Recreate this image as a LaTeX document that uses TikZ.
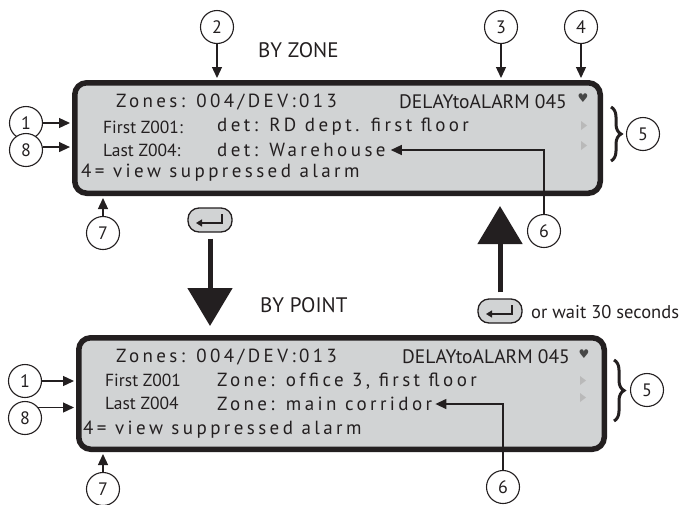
\documentclass[tikz,border=0pt]{standalone}
\usepackage{fontspec}
\setmainfont{PT Sans}
\newfontfamily\lcdfont[LetterSpace=18]{PT Sans}
\newfontfamily\symfont{DejaVu Sans}
\usetikzlibrary{arrows.meta,decorations.pathreplacing,calc}
\definecolor{lcdgrey}{HTML}{D1D3D4}
\definecolor{ink}{HTML}{231F20}
\begin{document}
\begin{tikzpicture}[x=1pt,y=-1pt,
 num/.style={circle,draw=ink,line width=1.1pt,minimum size=33pt,inner sep=0pt,fill=white,font=\fontsize{18}{18}\selectfont,text=ink},
 lcd/.style={draw=ink,fill=lcdgrey,line width=5.5pt,rounded corners=12pt,minimum width=525.5pt,minimum height=110.5pt,inner sep=0pt},
 lcdtxt/.style={anchor=west,inner sep=0pt,font=\lcdfont\fontsize{19}{19}\selectfont,text=ink},
 lbl/.style={anchor=west,inner sep=0pt,font=\fontsize{19.5}{19.5}\selectfont,text=ink},
 rowlbl/.style={anchor=west,inner sep=0pt,font=\fontsize{17.5}{17.5}\selectfont,text=ink},
 head/.style={anchor=west,inner sep=0pt,font=\fontsize{21}{21}\selectfont,text=ink},
 ptr/.style={draw=ink,line width=1.3pt,-{Triangle[length=11pt,width=10pt]}},
 bigarrow/.style={draw=ink,line width=5pt,-{Triangle[length=38pt,width=44pt]}},
 keybox/.style={draw=ink,fill=lcdgrey,line width=1.3pt,rounded corners=11pt,minimum width=44pt,minimum height=24pt,inner sep=0pt},
 keyglyph/.style={draw=ink,line width=1.2pt,-{Triangle[length=6pt,width=7pt]}},
 tri/.style={fill=gray!55},
 heart/.style={inner sep=0pt,font=\symfont\fontsize{12}{12}\selectfont,text=gray!55!black},
 bracestyle/.style={draw=ink,line width=3pt,decorate,decoration={brace,amplitude=10pt}}
]
\useasboundingbox (0,0) rectangle (683,504);

% ---------- BY ZONE ----------
\node[lcd] (box1) at (337.5,138) {};
\node[num] (t2) at (217,27) {2};
\node[num] (t3) at (501,27) {3};
\node[num] (t4) at (581,27) {4};
\node[head] (byzone) at (258,50) {BY ZONE};
\draw[ptr,shorten >=2pt] (t2) -- (t2 |- box1.north);
\draw[ptr,shorten >=2pt] (t3) -- (t3 |- box1.north);
\draw[ptr,shorten >=2pt] (t4) -- (t4 |- box1.north);

\node[lcdtxt] (z1) at (116,102) {Zones: 004/DEV:013};
\node[lbl,anchor=east] (d1) at (567,102) {DELAYtoALARM 045};
\node[heart] (h1) at (583,98) {♥};
\node[rowlbl] (f1) at (103,127) {First Z001:};
\node[lcdtxt] (r1) at (217,127) {det: RD dept. first floor};
\node[rowlbl] (l1) at (103,150) {Last Z004:};
\node[lcdtxt] (w1) at (217,150) {det: Warehouse};
\node[lcdtxt] (v1) at (81,173) {4= view suppressed alarm};
\fill[tri] (581,121) -- (587,125.5) -- (581,130) -- cycle;
\fill[tri] (581,141) -- (587,145.5) -- (581,150) -- cycle;

\node[num] (t1) at (26,123) {1};
\node[num] (t8) at (26,150) {8};
\draw[ptr,shorten >=2pt] (t1) -- (t1 -| box1.west);
\draw[ptr,shorten >=2pt] (t8.10) -- (t8.10 -| box1.west);

\coordinate (b5top) at (611,107);
\coordinate (b5bot) at (611,161);
\draw[bracestyle] (b5top) -- (b5bot);
\node[num] (t5) at (643,134) {5};

\node[num] (t7) at (103,233) {7};
\draw[ptr,shorten >=2pt] (t7) -- (t7 |- box1.south);

\node[num] (t6) at (544,231) {6};
\coordinate (w1tip) at ($(w1.east)+(5,0)$);
\draw[ptr] (t6.north) |- (w1tip);

% ---------- keys and transitions ----------
\node[keybox] (key1) at (210,220) {};
\draw[keyglyph] ($(key1)+(12,-6)$) -- ($(key1)+(12,3)$) -- ($(key1)+(-14,3)$);
\coordinate (dtip) at (210,326);
\draw[bigarrow,shorten <=6pt] (key1.south) -- (dtip);
\node[head] (bypoint) at (260,305) {BY POINT};

\node[keybox] (key2) at (500,311) {};
\draw[keyglyph] ($(key2)+(12,-6)$) -- ($(key2)+(12,3)$) -- ($(key2)+(-14,3)$);
\coordinate (utip) at (500,206);
\draw[bigarrow,shorten <=6pt] (key2.north) -- (utip);
\node[lbl,font=\fontsize{18.5}{18.5}\selectfont] (wait) at (531,312) {or wait 30 seconds};

% ---------- BY POINT ----------
\node[lcd,minimum height=111.5pt] (box2) at (341.5,393.5) {};
\node[lcdtxt] (z2) at (116,357) {Zones: 004/DEV:013};
\node[lbl,anchor=east] (d2) at (570,357) {DELAYtoALARM 045};
\node[heart] (h2) at (584,354) {♥};
\node[rowlbl] (f2) at (105,380) {First Z001};
\node[lcdtxt] (r2) at (217,381) {Zone: office 3, first floor};
\node[rowlbl] (l2) at (105,403) {Last Z004};
\node[lcdtxt] (w2) at (217,404) {Zone: main corridor};
\node[lcdtxt] (v2) at (83,430) {4= view suppressed alarm};
\fill[tri] (580,376) -- (586,380.5) -- (580,385) -- cycle;
\fill[tri] (580,393) -- (586,397.5) -- (580,402) -- cycle;

\node[num] (b1) at (25,381) {1};
\node[num] (b8) at (25,418) {8};
\draw[ptr,shorten >=2pt] (b1) -- (b1 -| box2.west);
\draw[ptr,shorten >=2pt] (b8.38) -- (b8.38 -| box2.west);

\coordinate (c5top) at (614,360);
\coordinate (c5bot) at (614,421);
\draw[bracestyle] (c5top) -- (c5bot);
\node[num] (b5) at (647,390) {5};

\node[num] (b7) at (103,489) {7};
\draw[ptr,shorten >=2pt] (b7) -- (b7 |- box2.south);

\node[num] (b6) at (503,487) {6};
\coordinate (w2tip) at ($(w2.east)+(3,0)$);
\draw[ptr] (b6.north) |- (w2tip);
\end{tikzpicture}
\end{document}
